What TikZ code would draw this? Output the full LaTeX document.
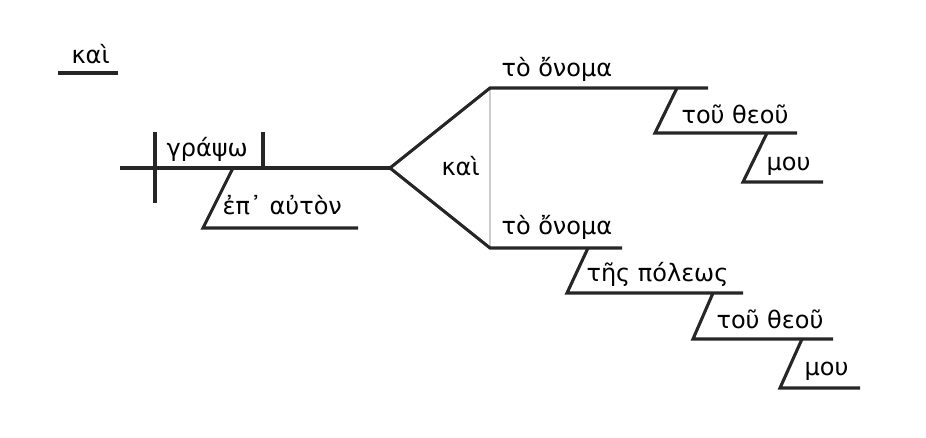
\documentclass[tikz,border=0pt]{standalone}
\usepackage{fontspec}
\setmainfont{DejaVu Sans}
\usetikzlibrary{positioning}

\begin{document}
\begin{tikzpicture}[x=1pt,y=-1pt,line width=3.1pt,color=black!85,
    word/.style={anchor=base west,inner sep=0pt,text=black,font=\fontsize{24}{28}\selectfont}]
    \useasboundingbox (0,0) rectangle (926,438);
    % leading conjunction
    \node[word] (kaiA) at (70,64) {καὶ};
    \coordinate (kaiL) at (58,73);
    \coordinate (kaiR) at (118,73);
    \draw (kaiL) -- (kaiR);
    % main line
    \coordinate (start) at (120,168);
    \coordinate (fork) at (390,168);
    \draw (start) -- (fork);
    \draw (155,132) -- (155,203);
    \draw (263,132) -- (263,168);
    \node[word] (verb) at (165,157) {γράψω};
    \draw (233,168) -- (203,228) -- (358,228);
    \node[word] (prep) at (221,215) {ἐπ᾽ αὐτὸν};
    % compound object
    \coordinate (top) at (490,88);
    \coordinate (bot) at (490,248);
    \draw[gray!40,line width=1.8pt] (top) -- (bot);
    \draw (708,88) -- (top) -- (fork) -- (bot) -- (622,248);
    \node[word] (kaiB) at (440,176) {καὶ};
    \node[word] (nameA) at (500,77) {τὸ ὄνομα};
    \node[word] (nameB) at (500,235) {τὸ ὄνομα};
    % upper modifiers
    \draw (677,88) -- (655,133) -- (797,133);
    \node[word] (godA) at (680,124) {τοῦ θεοῦ};
    \draw (767,133) -- (743,182) -- (823,182);
    \node[word] (myA) at (765,171) {μου};
    % lower modifiers
    \draw (588,248) -- (567,293) -- (743,293);
    \node[word] (city) at (585,282) {τῆς πόλεως};
    \draw (713,293) -- (693,339) -- (833,339);
    \node[word] (godB) at (715,328) {τοῦ θεοῦ};
    \draw (802,339) -- (780,388) -- (860,388);
    \node[word] (myB) at (803,375) {μου};
\end{tikzpicture}
\end{document}
